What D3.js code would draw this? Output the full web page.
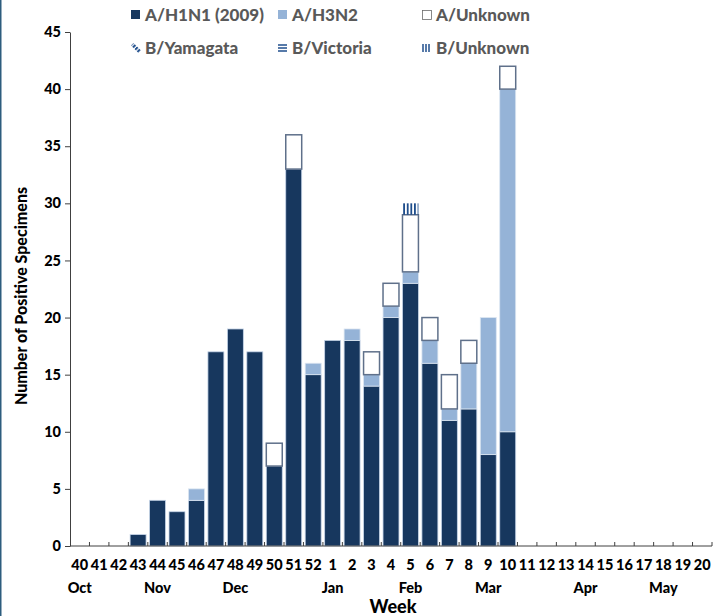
<!DOCTYPE html>
<html>
<head>
<meta charset="utf-8">
<script src="https://cdn.jsdelivr.net/npm/d3@7"></script>
<style>
  body { margin: 0; background: #fff; }
  svg { display: block; font-family: Lato, "Open Sans", sans-serif; font-weight: bold; }
</style>
</head>
<body>
<script>
// data
const weeks = ["40","41","42","43","44","45","46","47","48","49","50","51","52",
  "1","2","3","4","5","6","7","8","9","10","11","12","13","14","15","16","17","18","19","20"];
const h1n1     = [0,0,0,1,4,3,4,17,19,17,7,33,15,18,18,14,20,23,16,11,12,8,10,0,0,0,0,0,0,0,0,0,0];
const h3n2     = [0,0,0,0,0,0,1,0,0,0,0,0,1,0,1,1,1,1,2,1,4,12,30,0,0,0,0,0,0,0,0,0,0];
const aUnknown = [0,0,0,0,0,0,0,0,0,0,2,3,0,0,0,2,2,5,2,3,2,0,2,0,0,0,0,0,0,0,0,0,0];
const bYam     = [0,0,0,0,0,0,0,0,0,0,0,0,0,0,0,0,0,0,0,0,0,0,0,0,0,0,0,0,0,0,0,0,0];
const bVic     = [0,0,0,0,0,0,0,0,0,0,0,0,0,0,0,0,0,0,0,0,0,0,0,0,0,0,0,0,0,0,0,0,0];
const bUnknown = [0,0,0,0,0,0,0,0,0,0,0,0,0,0,0,0,0,1,0,0,0,0,0,0,0,0,0,0,0,0,0,0,0];
const months = [["Oct","40"],["Nov","44"],["Dec","48"],["Jan","1"],["Feb","5"],["Mar","9"],["Apr","14"],["May","18"]];
const yTicks = [0,5,10,15,20,25,30,35,40,45];

const series_keys = ["A/H1N1 (2009)","A/H3N2","A/Unknown","B/Yamagata","B/Victoria","B/Unknown"];
const series_values = [h1n1, h3n2, aUnknown, bYam, bVic, bUnknown];

const table = weeks.map((w, i) => {
    const row = {week: w};
    series_keys.forEach((k, j) => row[k] = series_values[j][i]);
    return row;
});

const W = 727, H = 616;
const margin = {left: 70, right: 15, top: 32, bottom: 70};

const svg = d3.select("body").append("svg")
    .attr("width", W)
    .attr("height", H);

// patterns for the B series
const defs = svg.append("defs");
const navy = "#17375e", light = "#95b3d7", stripe = "#1f4e8c";

defs.append("pattern").attr("id", "pYam").attr("patternUnits", "userSpaceOnUse")
    .attr("width", 3.5).attr("height", 3.5).attr("patternTransform", "rotate(45)")
    .append("rect").attr("width", 3.5).attr("height", 1.8).attr("fill", stripe);
defs.append("pattern").attr("id", "pYamLeg").attr("patternUnits", "userSpaceOnUse")
    .attr("width", 3.2).attr("height", 3.2).attr("patternTransform", "rotate(-45)")
    .append("rect").attr("width", 3.2).attr("height", 2).attr("fill", stripe);
defs.append("pattern").attr("id", "pVic").attr("patternUnits", "userSpaceOnUse")
    .attr("width", 4).attr("height", 3.5)
    .append("rect").attr("width", 4).attr("height", 1.6).attr("fill", stripe);
defs.append("pattern").attr("id", "pUnk").attr("patternUnits", "userSpaceOnUse")
    .attr("width", 3.6).attr("height", 4)
    .append("rect").attr("width", 1.8).attr("height", 4).attr("fill", stripe);

const fills = {
    "A/H1N1 (2009)": navy,
    "A/H3N2": light,
    "A/Unknown": "#fff",
    "B/Yamagata": "url(#pYam)",
    "B/Victoria": "url(#pVic)",
    "B/Unknown": "url(#pUnk)"
};
const strokes = {
    "A/H1N1 (2009)": "#c6d5e8",
    "A/H3N2": "#dbe5f1",
    "A/Unknown": "#5f708a",
    "B/Yamagata": "none",
    "B/Victoria": "none",
    "B/Unknown": "none"
};

// left frame line
svg.append("rect").attr("x", 0).attr("y", 0).attr("width", 1.5).attr("height", H).attr("fill", "#2d5d7e");

const x = d3.scaleBand()
    .domain(weeks)
    .range([margin.left, W - margin.right])
    .paddingInner(0.18)
    .paddingOuter(0.09);

const y = d3.scaleLinear()
    .domain([0, 45])
    .range([H - margin.bottom, margin.top]);

const stacked = d3.stack().keys(series_keys)(table);

const layers = svg.append("g").selectAll("g")
    .data(stacked)
    .join("g")
    .attr("fill", d => fills[d.key])
    .attr("stroke", d => strokes[d.key])
    .attr("stroke-width", d => d.key === "A/Unknown" ? 1.5 : 0.8);

layers.selectAll("rect")
    .data(d => d.filter(p => p[1] - p[0] > 0))
    .join("rect")
    .attr("x", d => x(d.data.week))
    .attr("width", x.bandwidth())
    .attr("y", d => y(d[1]))
    .attr("height", d => y(d[0]) - y(d[1]));

// y axis
const yAxis = svg.append("g")
    .attr("transform", `translate(${margin.left},0)`)
    .call(d3.axisLeft(y).tickValues(yTicks).tickSize(5).tickSizeOuter(0));
yAxis.attr("font-family", null).attr("font-size", null);
yAxis.select(".domain").attr("stroke", "#404040");
yAxis.selectAll(".tick line").attr("stroke", "#404040");
yAxis.selectAll("text").attr("font-size", 14.5).attr("fill", "#000").attr("dx", "-1")
    .attr("font-weight", 900);

// x axis: line and boundary ticks pointing up
const xAxis = svg.append("g")
    .attr("transform", `translate(0,${y(0)})`);
xAxis.append("line")
    .attr("x1", margin.left).attr("x2", W - margin.right)
    .attr("stroke", "#404040");
const step = x.step();
xAxis.selectAll("line.b")
    .data(weeks)
    .join("line")
    .attr("class", "b")
    .attr("x1", d => x(d) - x.paddingInner() * step / 2 + step)
    .attr("x2", d => x(d) - x.paddingInner() * step / 2 + step)
    .attr("y1", 0).attr("y2", -4)
    .attr("stroke", "#404040");
xAxis.selectAll("text.wk")
    .data(weeks)
    .join("text")
    .attr("class", "wk")
    .attr("x", d => x(d) + x.bandwidth() / 2)
    .attr("y", 24)
    .attr("text-anchor", "middle")
    .attr("font-size", 14.5)
    .attr("font-weight", 900)
    .text(d => d);

svg.append("g").selectAll("text")
    .data(months)
    .join("text")
    .attr("x", d => x(d[1]) + x.bandwidth() / 2)
    .attr("y", 593)
    .attr("text-anchor", "middle")
    .attr("font-size", 14.5)
    .attr("font-weight", 900)
    .text(d => d[0]);

// axis titles
svg.append("text")
    .attr("x", 393).attr("y", 613)
    .attr("text-anchor", "middle")
    .attr("font-size", 18)
    .attr("font-weight", 900)
    .text("Week");

svg.append("text")
    .attr("transform", "translate(27,296) rotate(-90)")
    .attr("text-anchor", "middle")
    .attr("font-size", 16)
    .attr("font-weight", 900)
    .text("Number of Positive Specimens");

// legend
const legend_pos = [[131, 15], [278, 15], [422, 15], [131, 48], [278, 48], [422, 48]];
const legend = svg.append("g").selectAll("g")
    .data(series_keys)
    .join("g")
    .attr("transform", (d, i) => `translate(${legend_pos[i][0]},${legend_pos[i][1]})`);

legend.each(function (k) {
    const g = d3.select(this);
    if (k === "A/H1N1 (2009)" || k === "A/H3N2") {
        g.append("rect").attr("x", 0).attr("y", -5).attr("width", 9).attr("height", 9).attr("fill", fills[k]);
    } else if (k === "A/Unknown") {
        g.append("rect").attr("x", 0.5).attr("y", -4.5).attr("width", 9).attr("height", 9)
            .attr("fill", "#fff").attr("stroke", "#6b6b6b").attr("stroke-width", 0.8);
    } else if (k === "B/Yamagata") {
        // a "\" band broken by the stripe gaps
        g.append("path")
            .attr("d", "M0,-2.5 L2.5,-5 L10,2.5 L7.5,5 Z")
            .attr("fill", "url(#pYamLeg)");
    } else if (k === "B/Victoria") {
        [-3, 0, 3].forEach(o => g.append("line")
            .attr("x1", 0).attr("x2", 9).attr("y1", o).attr("y2", o)
            .attr("stroke", stripe).attr("stroke-width", 1.5));
    } else {
        [1, 4, 7].forEach(o => g.append("line")
            .attr("x1", o).attr("x2", o).attr("y1", -4).attr("y2", 4)
            .attr("stroke", stripe).attr("stroke-width", 1.5));
    }
    g.append("text")
        .attr("x", 14).attr("y", 5.5)
        .attr("font-size", 17)
        .attr("font-weight", 900)
        .attr("fill", "#595959")
        .text(k);
});
</script>
</body>
</html>
